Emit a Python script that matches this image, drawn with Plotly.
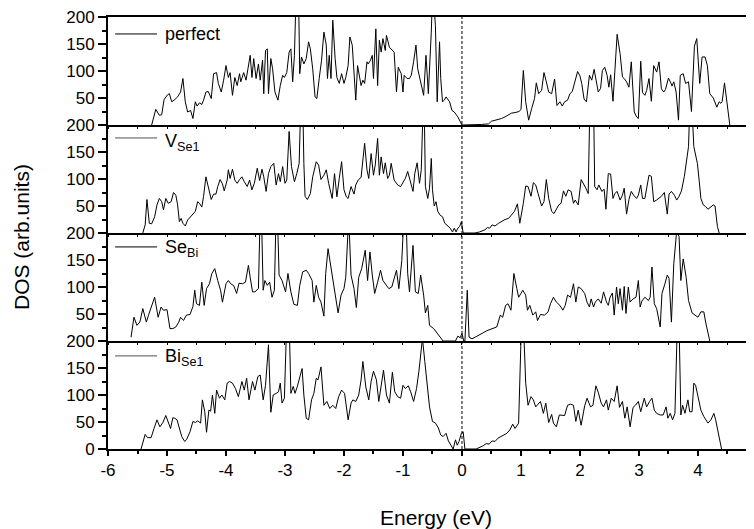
import plotly.graph_objects as go
from plotly.subplots import make_subplots

# ---------------- data ----------------
e_perfect = [-5.26,-5.19,-5.13,-5.09,-5.05,-4.99,-4.96,-4.92,-4.88,-4.82,-4.77,-4.73,-4.69,-4.65,-4.60,-4.56,-4.52,-4.49,-4.45,-4.41,
             -4.38,-4.34,-4.30,-4.25,-4.21,-4.16,-4.13,-4.08,-4.04,-4.00,-3.96,-3.93,-3.89,-3.85,-3.81,-3.77,-3.75,-3.70,-3.66,-3.62,
             -3.59,-3.56,-3.53,-3.49,-3.45,-3.42,-3.38,-3.36,-3.33,-3.30,-3.28,-3.24,-3.21,-3.17,-3.12,-3.08,-3.04,-3.01,-2.97,-2.93,
             -2.90,-2.87,-2.84,-2.81,-2.79,-2.77,-2.75,-2.72,-2.68,-2.64,-2.60,-2.57,-2.53,-2.49,-2.46,-2.42,-2.38,-2.34,-2.30,-2.28,
             -2.25,-2.22,-2.19,-2.15,-2.12,-2.08,-2.04,-2.00,-1.97,-1.93,-1.90,-1.86,-1.82,-1.80,-1.77,-1.71,-1.68,-1.65,-1.61,-1.59,
             -1.55,-1.52,-1.50,-1.46,-1.43,-1.40,-1.37,-1.34,-1.30,-1.28,-1.23,-1.20,-1.15,-1.11,-1.08,-1.03,-1.00,-0.98,-0.93,-0.89,
             -0.86,-0.82,-0.78,-0.75,-0.71,-0.68,-0.65,-0.61,-0.57,-0.52,-0.50,-0.48,-0.45,-0.42,-0.38,-0.36,-0.33,-0.30,-0.27,-0.21,
             -0.17,-0.13,-0.07,-0.02,0.00,0.33,0.45,0.50,0.59,0.67,0.73,0.77,0.84,0.90,0.97,1.00,1.04,1.08,1.13,1.18,
             1.23,1.26,1.30,1.35,1.39,1.43,1.47,1.52,1.57,1.61,1.66,1.70,1.74,1.79,1.83,1.87,1.91,1.96,2.00,2.03,
             2.07,2.11,2.16,2.20,2.24,2.27,2.31,2.35,2.38,2.42,2.46,2.49,2.52,2.56,2.59,2.63,2.68,2.72,2.75,2.79,
             2.83,2.87,2.92,2.96,2.99,3.03,3.06,3.10,3.13,3.17,3.21,3.25,3.30,3.34,3.38,3.42,3.45,3.50,3.54,3.56,
             3.59,3.63,3.67,3.70,3.75,3.79,3.84,3.89,3.94,3.98,4.03,4.07,4.12,4.16,4.20,4.26,4.32,4.36,4.39,4.41,
             4.45,4.49,4.53,4.54]
d_perfect = [0,29,18,19,47,56,58,43,46,52,61,86,43,24,27,12,43,35,41,38,
             46,61,62,49,95,97,77,61,83,110,88,97,55,88,73,95,80,97,83,107,
             129,88,123,86,113,83,120,58,138,141,58,123,104,61,46,73,92,88,97,135,
             141,80,129,250,260,240,95,126,113,123,154,141,104,52,49,86,120,172,148,86,
             129,86,194,123,88,77,95,77,88,110,163,148,77,46,110,73,83,77,117,113,
             120,129,86,178,73,157,135,160,138,166,144,141,135,61,107,95,61,92,86,86,
             92,117,148,104,83,71,55,129,58,172,240,230,184,43,154,86,43,46,52,43,
             27,24,15,2,0,1,2,7,9,12,15,17,22,23,25,29,101,43,9,30,
             49,78,58,64,97,80,61,58,85,36,43,35,43,46,58,62,80,99,91,77,
             48,43,92,83,103,86,61,68,101,107,92,70,93,44,98,168,132,89,86,80,
             70,117,24,15,12,118,60,55,64,86,44,110,98,117,67,61,66,87,78,72,
             80,61,9,92,95,77,80,25,146,160,77,126,126,110,58,50,33,43,40,43,
             78,40,6,0]

e_vse1 = [-5.41,-5.37,-5.34,-5.30,-5.26,-5.21,-5.17,-5.13,-5.09,-5.06,-5.02,-4.98,-4.93,-4.89,-4.85,-4.82,-4.79,-4.76,-4.73,-4.69,
          -4.65,-4.60,-4.56,-4.52,-4.48,-4.45,-4.41,-4.38,-4.34,-4.30,-4.25,-4.21,-4.17,-4.14,-4.10,-4.06,-4.03,-3.98,-3.96,-3.93,
          -3.89,-3.85,-3.81,-3.77,-3.73,-3.69,-3.64,-3.60,-3.56,-3.52,-3.47,-3.43,-3.39,-3.36,-3.32,-3.28,-3.24,-3.19,-3.15,-3.11,
          -3.08,-3.04,-3.00,-2.97,-2.93,-2.89,-2.84,-2.80,-2.76,-2.73,-2.70,-2.68,-2.66,-2.62,-2.57,-2.53,-2.47,-2.43,-2.39,-2.34,
          -2.30,-2.26,-2.23,-2.20,-2.16,-2.12,-2.08,-2.04,-2.00,-1.96,-1.93,-1.88,-1.83,-1.80,-1.76,-1.71,-1.65,-1.61,-1.58,-1.54,
          -1.50,-1.47,-1.43,-1.40,-1.37,-1.33,-1.30,-1.26,-1.23,-1.20,-1.15,-1.09,-1.04,-1.00,-0.96,-0.92,-0.87,-0.83,-0.80,-0.76,
          -0.72,-0.69,-0.66,-0.64,-0.62,-0.58,-0.55,-0.52,-0.50,-0.47,-0.44,-0.41,-0.37,-0.33,-0.29,-0.24,-0.20,-0.16,-0.13,-0.10,
          -0.07,-0.04,-0.01,0.02,0.22,0.30,0.39,0.43,0.47,0.51,0.56,0.62,0.67,0.73,0.79,0.84,0.89,0.94,0.98,1.04,
          1.08,1.12,1.17,1.21,1.25,1.29,1.35,1.39,1.43,1.47,1.52,1.56,1.60,1.64,1.68,1.72,1.76,1.80,1.85,1.89,
          1.92,1.97,2.02,2.06,2.10,2.14,2.17,2.20,2.23,2.25,2.29,2.32,2.37,2.41,2.44,2.48,2.52,2.56,2.59,2.63,
          2.68,2.72,2.75,2.79,2.83,2.87,2.91,2.96,2.99,3.03,3.06,3.10,3.13,3.17,3.21,3.25,3.30,3.34,3.38,3.43,
          3.48,3.51,3.55,3.60,3.64,3.68,3.72,3.77,3.81,3.84,3.86,3.90,3.93,3.96,3.99,4.02,4.05,4.09,4.13,4.17,
          4.22,4.26,4.29,4.33,4.36]
d_vse1 = [0,15,62,18,17,30,52,64,58,43,64,55,58,75,70,52,21,27,18,13,
          24,30,36,40,58,55,48,68,104,86,62,72,72,86,99,91,78,98,117,101,
          118,98,92,99,104,95,86,98,80,92,120,97,118,104,77,110,123,129,89,110,
          95,123,92,98,188,123,95,110,129,250,250,129,68,62,73,104,132,126,99,107,
          117,92,77,64,110,67,101,132,80,67,64,86,72,89,98,103,166,117,101,147,
          107,126,175,107,141,110,130,101,107,129,98,89,86,95,101,114,93,77,110,130,
          92,117,230,240,86,64,83,138,80,50,58,40,33,30,18,13,9,2,9,2,
          9,12,21,0,0,2,6,10,9,15,13,18,21,25,27,33,40,54,18,55,
          87,86,68,93,89,73,50,58,99,64,40,36,43,52,55,78,68,80,77,55,
          61,52,99,92,83,73,250,260,250,86,80,89,77,81,44,110,109,64,73,77,
          61,70,83,35,62,77,70,64,70,89,64,64,86,107,105,58,61,64,68,75,
          35,72,77,70,61,68,78,105,135,160,230,230,160,147,129,98,64,52,49,44,
          48,52,50,12,0]

e_sebi = [-5.61,-5.56,-5.51,-5.46,-5.41,-5.35,-5.31,-5.26,-5.21,-5.15,-5.10,-5.06,-5.00,-4.95,-4.90,-4.85,-4.80,-4.77,-4.72,-4.67,
          -4.61,-4.56,-4.53,-4.50,-4.45,-4.41,-4.37,-4.33,-4.28,-4.24,-4.19,-4.14,-4.09,-4.06,-4.00,-3.96,-3.91,-3.87,-3.82,-3.78,
          -3.72,-3.67,-3.62,-3.59,-3.55,-3.51,-3.45,-3.42,-3.40,-3.37,-3.34,-3.30,-3.26,-3.22,-3.18,-3.15,-3.13,-3.10,-3.05,-2.99,
          -2.95,-2.90,-2.85,-2.79,-2.75,-2.70,-2.64,-2.60,-2.54,-2.51,-2.47,-2.43,-2.39,-2.34,-2.31,-2.27,-2.22,-2.18,-2.16,-2.10,
          -2.05,-2.00,-1.97,-1.92,-1.88,-1.83,-1.79,-1.75,-1.70,-1.64,-1.60,-1.56,-1.52,-1.48,-1.43,-1.38,-1.34,-1.30,-1.24,-1.19,
          -1.15,-1.11,-1.07,-1.02,-0.98,-0.95,-0.92,-0.89,-0.83,-0.79,-0.74,-0.70,-0.65,-0.62,-0.58,-0.55,-0.48,-0.42,-0.35,-0.32,
          -0.11,-0.07,-0.03,0.00,0.03,0.05,0.09,0.12,0.17,0.26,0.34,0.42,0.53,0.59,0.65,0.69,0.74,0.78,0.83,0.88,
          0.93,0.96,1.00,1.03,1.08,1.11,1.15,1.20,1.25,1.28,1.33,1.40,1.46,1.50,1.55,1.60,1.66,1.71,1.75,1.79,
          1.84,1.89,1.93,1.97,2.02,2.08,2.12,2.16,2.19,2.23,2.26,2.31,2.36,2.40,2.45,2.48,2.51,2.55,2.58,2.62,
          2.65,2.68,2.72,2.75,2.78,2.82,2.85,2.90,2.95,2.99,3.02,3.05,3.10,3.16,3.19,3.22,3.26,3.30,3.36,3.39,
          3.44,3.48,3.51,3.55,3.59,3.64,3.68,3.71,3.75,3.80,3.84,3.90,3.95,4.00,4.05,4.10,4.13,4.20]
d_sebi = [7,44,29,35,60,35,49,66,81,44,63,57,58,23,23,26,35,44,38,48,
          49,64,94,69,66,109,66,97,106,125,134,112,93,72,106,112,105,103,88,107,
          106,109,140,118,91,91,97,240,240,94,112,103,109,81,94,240,240,122,112,91,
          125,91,68,66,103,128,131,125,112,72,103,81,72,46,125,171,134,103,97,52,
          85,97,118,230,122,97,62,118,134,168,112,165,122,88,109,131,112,106,97,100,
          118,131,97,149,240,240,125,91,177,91,88,122,85,52,66,29,23,15,4,0,
          0,9,6,14,0,0,94,7,4,10,14,19,23,26,48,44,66,69,57,125,
          97,81,88,94,85,57,66,48,54,38,49,48,54,69,81,72,66,57,66,85,
          81,106,72,100,97,88,72,63,78,63,72,78,70,91,72,66,81,89,48,100,
          69,97,57,101,51,100,72,78,81,112,63,74,81,75,81,137,69,60,26,88,
          106,122,116,35,143,205,193,112,152,118,75,52,48,44,54,54,35,0]

e_bise1 = [-5.44,-5.37,-5.33,-5.27,-5.22,-5.17,-5.12,-5.07,-5.02,-4.97,-4.94,-4.90,-4.87,-4.83,-4.79,-4.75,-4.70,-4.67,-4.61,-4.56,
           -4.52,-4.48,-4.43,-4.40,-4.36,-4.33,-4.29,-4.26,-4.23,-4.19,-4.16,-4.11,-4.07,-4.02,-3.98,-3.94,-3.89,-3.84,-3.79,-3.73,
           -3.69,-3.65,-3.61,-3.55,-3.51,-3.46,-3.42,-3.37,-3.33,-3.28,-3.24,-3.20,-3.15,-3.11,-3.08,-3.05,-3.01,-2.97,-2.95,-2.93,
           -2.90,-2.86,-2.83,-2.79,-2.74,-2.71,-2.68,-2.64,-2.60,-2.55,-2.51,-2.47,-2.44,-2.39,-2.34,-2.29,-2.24,-2.19,-2.14,-2.09,
           -2.04,-1.99,-1.93,-1.88,-1.85,-1.80,-1.75,-1.71,-1.68,-1.63,-1.58,-1.54,-1.50,-1.45,-1.41,-1.37,-1.33,-1.28,-1.23,-1.18,
           -1.14,-1.09,-1.04,-1.00,-0.96,-0.91,-0.87,-0.82,-0.77,-0.73,-0.70,-0.67,-0.63,-0.58,-0.55,-0.50,-0.45,-0.40,-0.36,-0.32,
           -0.27,-0.23,-0.18,-0.15,-0.11,-0.08,-0.05,-0.01,0.02,0.05,0.24,0.29,0.36,0.41,0.46,0.51,0.56,0.61,0.66,0.71,
           0.76,0.81,0.86,0.90,0.96,1.01,1.04,1.08,1.12,1.17,1.21,1.25,1.30,1.33,1.38,1.42,1.47,1.52,1.55,1.60,
           1.65,1.69,1.74,1.79,1.84,1.89,1.93,1.97,2.02,2.08,2.12,2.18,2.22,2.27,2.31,2.36,2.40,2.45,2.48,2.53,
           2.58,2.63,2.67,2.72,2.76,2.80,2.85,2.90,2.94,2.99,3.03,3.09,3.13,3.18,3.22,3.26,3.30,3.36,3.41,3.46,
           3.49,3.53,3.57,3.61,3.65,3.68,3.71,3.74,3.78,3.83,3.86,3.90,3.93,3.96,4.01,4.05,4.10,4.17,4.22,4.27,
           4.30,4.40]
d_bise1 = [0,27,21,21,38,54,41,49,62,49,38,58,57,54,37,23,14,17,32,51,
           49,52,48,91,69,31,72,70,100,66,109,94,100,91,122,125,122,112,97,125,
           109,131,91,125,109,134,137,91,118,193,68,100,103,106,122,85,94,240,240,240,
           103,116,103,116,137,149,100,57,54,91,103,131,128,152,81,88,75,81,75,97,
           109,103,54,85,91,88,100,128,162,115,91,125,144,128,88,115,146,100,85,142,
           106,97,94,118,112,117,106,88,112,144,183,205,162,100,78,51,48,39,26,23,
           29,15,4,0,17,7,14,29,32,0,0,2,6,10,9,15,14,20,23,26,
           29,35,46,38,48,240,240,122,81,97,91,78,85,88,66,85,49,64,48,41,
           63,63,62,81,83,81,51,72,44,80,94,78,81,117,105,85,78,91,72,94,
           88,117,77,88,57,78,41,77,81,88,69,94,78,88,94,72,66,63,63,78,
           57,66,54,66,230,230,63,81,66,91,69,69,122,118,94,72,60,48,54,66,
           54,0]

panel_labels = ["perfect", "V<sub>Se1</sub>", "Se<sub>Bi</sub>", "Bi<sub>Se1</sub>"]
series_e = [e_perfect, e_vse1, e_sebi, e_bise1]
series_d = [d_perfect, d_vse1, d_sebi, d_bise1]

x_tick_vals = [-6, -5, -4, -3, -2, -1, 0, 1, 2, 3, 4]
x_tick_text = ["-6", "-5", "-4", "-3", "-2", "-1", "0", "1", "2", "3", "4"]
y_tick_vals = [0, 50, 100, 150, 200]
y_tick_vals_upper = [50, 100, 150, 200]
y_minor_vals = [25, 75, 125, 175]

# ---------------- figure ----------------
# the page body has an 8 px margin, so the figure is sized 8 px smaller
FONT = "Liberation Sans, Arial, sans-serif"
fig = make_subplots(rows=4, cols=1, shared_xaxes=True, vertical_spacing=0)

for i in range(4):
    fig.add_trace(go.Scatter(x=series_e[i], y=series_d[i], mode="lines",
                             line=dict(color="black", width=1), showlegend=False,
                             hoverinfo="skip"), row=i + 1, col=1)

for i in range(4):
    row = i + 1
    bottom = (row == 4)
    tv = y_tick_vals if bottom else y_tick_vals_upper
    fig.update_yaxes(row=row, col=1, range=[0, 200], tickmode="array", tickvals=tv,
                     ticktext=[str(v) for v in tv], ticklabeloverflow="allow",
                     ticks="outside", ticklen=8, tickwidth=1.5, tickcolor="black",
                     minor=dict(tickmode="array", tickvals=y_minor_vals, ticks="outside", ticklen=4,
                                tickwidth=1.5, tickcolor="black"),
                     showline=True, linewidth=2, linecolor="black", showgrid=False, zeroline=False,
                     tickfont=dict(family=FONT, size=17, color="black"))
    if bottom:
        fig.update_xaxes(row=row, col=1, range=[-6, 4.95], tickmode="array", tickvals=x_tick_vals,
                         ticktext=x_tick_text, ticks="outside", ticklen=5, tickwidth=1.5, tickcolor="black",
                         minor=dict(dtick=0.5, tick0=0, ticks="outside", ticklen=3, tickwidth=1.5,
                                    tickcolor="black"),
                         showline=True, linewidth=2, linecolor="black", showgrid=False, zeroline=False,
                         tickfont=dict(family=FONT, size=17, color="black"))
    else:
        fig.update_xaxes(row=row, col=1, range=[-6, 4.95], dtick=0.5, tick0=0, ticks="outside", ticklen=2,
                         tickwidth=1, tickcolor="black", showticklabels=False,
                         showline=True, linewidth=2, linecolor="black", showgrid=False, zeroline=False,
                         mirror=(row == 1))

# dashed Fermi level line
fig.add_shape(type="line", xref="x4", x0=0, x1=0, yref="paper", y0=0, y1=1,
              line=dict(color="black", width=1, dash="3px,2px"))

# in-panel legends
legend_line_y = [0.843, 0.88, 0.871, 0.862]
legend_text_y = [0.843, 0.84, 0.86, 0.85]
legend_colors = ["black", "#505050", "black", "#505050"]
for i in range(4):
    xr = "x domain" if i == 0 else f"x{i+1} domain"
    yr = "y domain" if i == 0 else f"y{i+1} domain"
    fig.add_shape(type="line", xref=xr, yref=yr, x0=0.011, x1=0.076,
                  y0=legend_line_y[i], y1=legend_line_y[i],
                  line=dict(color=legend_colors[i], width=1))
    fig.add_annotation(xref=xr, yref=yr, x=0.085, y=legend_text_y[i], text=panel_labels[i],
                       showarrow=False, xanchor="left", yanchor="middle",
                       font=dict(family=FONT, size=18, color="black"))

# axis titles
fig.add_annotation(xref="paper", yref="paper", x=-0.133, y=0.491, text="DOS (arb.units)",
                   textangle=-90, showarrow=False, xanchor="center", yanchor="middle",
                   font=dict(family=FONT, size=21, color="black"))
fig.add_annotation(xref="paper", yref="paper", x=0.508, y=-0.159, text="Energy (eV)",
                   showarrow=False, xanchor="center", yanchor="middle",
                   font=dict(family=FONT, size=21, color="black"))
# last tick label, cut by the right edge as in the reference
fig.add_annotation(xref="paper", yref="paper", x=1.003, y=-0.053, text="5",
                   showarrow=False, xanchor="center", yanchor="middle",
                   font=dict(family=FONT, size=17, color="black"))

fig.update_layout(width=746, height=521, margin=dict(l=100, r=0, t=7, b=80),
                  plot_bgcolor="white", paper_bgcolor="white", showlegend=False)

fig.write_html("out.html")
